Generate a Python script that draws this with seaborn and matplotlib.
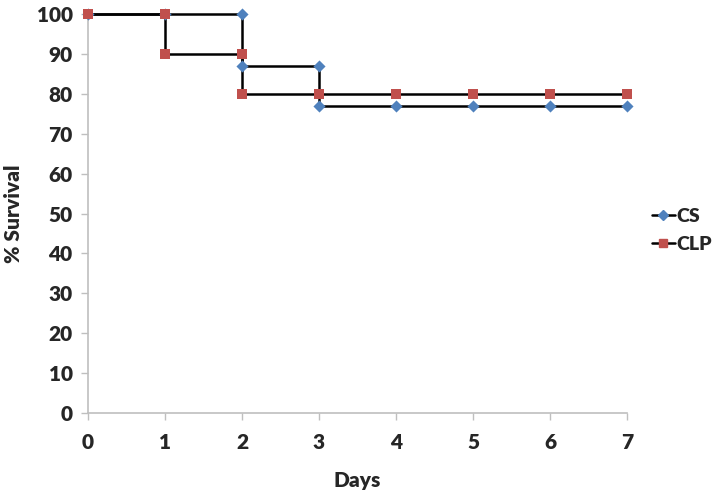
import matplotlib
matplotlib.use("Agg")
import matplotlib.pyplot as plt
import seaborn as sns
import pandas as pd

cs_days = [0, 1, 2, 2, 3, 3, 4, 5, 6, 7]
cs_surv = [100, 100, 100, 87, 87, 77, 77, 77, 77, 77]
clp_days = [0, 1, 1, 2, 2, 3, 4, 5, 6, 7]
clp_surv = [100, 100, 90, 90, 80, 80, 80, 80, 80, 80]
x_ticks = [0, 1, 2, 3, 4, 5, 6, 7]
y_ticks = [0, 10, 20, 30, 40, 50, 60, 70, 80, 90, 100]

sns.set_theme(style="white")
plt.rcParams['font.family'] = ['Lato', 'DejaVu Sans']
plt.rcParams['font.weight'] = 'heavy'

fig = plt.figure(figsize=(7.15, 4.96), dpi=100)
ax = fig.add_axes([0.123, 0.167, 0.754, 0.805])

df_cs = pd.DataFrame({"Days": cs_days, "Survival": cs_surv})
df_clp = pd.DataFrame({"Days": clp_days, "Survival": clp_surv})

sns.lineplot(data=df_cs, x="Days", y="Survival", sort=False, color="black", lw=1.8, ax=ax,
             estimator=None, zorder=2)
sns.lineplot(data=df_clp, x="Days", y="Survival", sort=False, color="black", lw=1.8, ax=ax,
             estimator=None, zorder=2)
sns.scatterplot(data=df_cs, x="Days", y="Survival", marker="D", color="#4F81BD", s=38,
                edgecolor="#4F81BD", linewidth=0, ax=ax, zorder=3, clip_on=False)
sns.scatterplot(data=df_clp, x="Days", y="Survival", marker="s", color="#C0504D", s=55,
                edgecolor="#C0504D", linewidth=0, ax=ax, zorder=4, clip_on=False)
for c in ax.collections:
    c.set_clip_on(False)
for l in ax.lines:
    l.set_clip_on(False)

ax.set_xlim(0, 7)
ax.set_ylim(0, 100)
ax.set_xticks(x_ticks)
ax.set_yticks(y_ticks)
ax.tick_params(axis='both', which='both', direction='out', length=5, width=1, color='#BFBFBF',
               labelsize=15, pad=6, left=True, bottom=True)
ax.tick_params(axis='x', pad=9)
for lab in ax.get_xticklabels() + ax.get_yticklabels():
    lab.set_fontweight('heavy')
for s in ['top', 'right']:
    ax.spines[s].set_visible(False)
for s in ['left', 'bottom']:
    ax.spines[s].set_color('#BFBFBF')
    ax.spines[s].set_linewidth(1.2)

ax.set_xlabel("Days", fontsize=15, fontweight='heavy', labelpad=14)
ax.set_ylabel("% Survival", fontsize=15, fontweight='heavy', labelpad=10)

from matplotlib.lines import Line2D
handles = [
    Line2D([], [], color='black', lw=1.8, marker='D', markerfacecolor='#4F81BD',
           markeredgecolor='#4F81BD', markersize=5),
    Line2D([], [], color='black', lw=1.8, marker='s', markerfacecolor='#C0504D',
           markeredgecolor='#C0504D', markersize=6),
]
fig.legend(handles, ["CS", "CLP"], loc='center left', bbox_to_anchor=(0.898, 0.535),
           frameon=False, handlelength=1.2, handletextpad=0.05, borderpad=0,
           labelspacing=0.55, prop={'weight': 'heavy', 'size': 14})

fig.savefig("out.png", dpi=100)
